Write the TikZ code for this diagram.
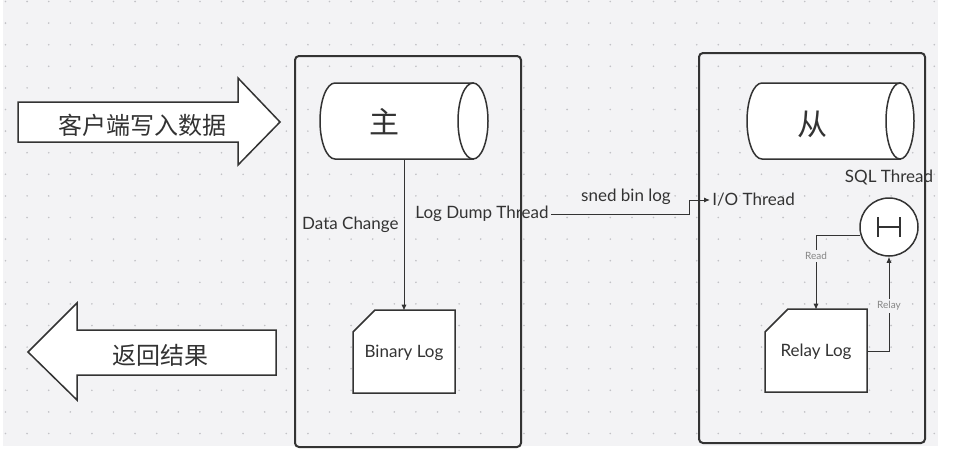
\documentclass[tikz,border=0pt]{standalone}
\usepackage{fontspec}
\setmainfont{Lato}
\newfontfamily\cjk{Noto Sans CJK SC}
\usetikzlibrary{arrows.meta}
\definecolor{canvas}{HTML}{F3F3F5}
\definecolor{gridpt}{HTML}{C2C2C6}
\definecolor{ink}{HTML}{333333}
\definecolor{lblgray}{HTML}{858585}

\begin{document}
\begin{tikzpicture}[x=0.5pt,y=-0.5pt,
    frame/.style={draw=ink,line width=1pt,rounded corners=2pt},
    shapeline/.style={draw=ink,line width=0.75pt,fill=white},
    txt/.style={text=ink,inner sep=1pt,font=\fontsize{8.5}{10}\selectfont},
    cjktxt/.style={text=ink,inner sep=1pt,font=\cjk\fontsize{12}{14}\selectfont},
    dbtxt/.style={text=ink,inner sep=1pt,font=\cjk\fontsize{15}{17}\selectfont},
    logbox/.style={txt,minimum width=51pt,minimum height=41.5pt},
    wirelbl/.style={text=lblgray,fill=canvas,inner sep=1pt,font=\fontsize{5}{6}\selectfont},
    flow/.style={draw=ink,line width=0.5pt,-{Latex[length=3pt,width=2.6pt]}}]
\useasboundingbox (0,0) rectangle (953,455);

% canvas with dot grid
\fill[canvas] (3,0) rectangle (938,446);
\foreach \i in {0,...,43}{
  \foreach \j in {0,...,20}{
    \fill[gridpt] (5.5+21.6*\i,1.5+21.6*\j) circle (0.45pt);
  }
}

% Drawing client arrows
\draw[shapeline] (18,102) -- (238,102) -- (238,78) -- (280,122) -- (238,165) -- (238,142) -- (18,142) -- cycle;
\node[cjktxt] (write) at (142,125) {客户端写入数据};
\draw[shapeline] (276,330) -- (77,330) -- (77,303) -- (28,352) -- (77,400) -- (77,375) -- (276,375) -- cycle;
\node[cjktxt] (result) at (160,355) {返回结果};

% Drawing master and slave frames
\draw[frame] (295,56) rectangle (521,447);
\draw[frame] (699,53) rectangle (925,443);

% Drawing cylinder for master
\draw[shapeline] (473,83) -- (335,83) .. controls (326.7,83) and (320,100) .. (320,121)
  .. controls (320,142) and (326.7,159) .. (335,159) -- (473,159) -- cycle;
\draw[shapeline] (473,121) ellipse [x radius=15, y radius=38];
\node[dbtxt] (master) at (384,122) {主};
\coordinate (masterbot) at (404,159);

% Drawing cylinder for slave
\draw[shapeline] (900,83) -- (762,83) .. controls (753.7,83) and (747,100) .. (747,121)
  .. controls (747,142) and (753.7,159) .. (762,159) -- (900,159) -- cycle;
\draw[shapeline] (900,121) ellipse [x radius=14, y radius=38];
\node[dbtxt] (slave) at (812,124) {从};

% Drawing log cards
\draw[shapeline] (353,332) -- (375,310) -- (455,310) -- (455,393) -- (353,393) -- cycle;
\node[logbox] (binlog) at (404,352.5) {Binary Log};
\draw[shapeline] (765,332) -- (788,309) -- (867,309) -- (867,392) -- (765,392) -- cycle;
\node[logbox] (relay) at (816,351.5) {Relay Log};

% Drawing SQL thread
\node[draw=ink,line width=0.75pt,fill=white,circle,minimum size=29pt,inner sep=0pt] (sqlt) at (889,227) {};
\draw[ink,line width=0.75pt] (sqlt.center) ++(-11,-10) -- ++(0,20) ++(0,-10) -- ++(22,0) ++(0,-10) -- ++(0,20);

% Labels
\node[txt,anchor=east] (change) at (401,225) {Data Change};
\node[txt,anchor=west] (dump) at (413,214) {Log Dump Thread};
\node[txt] (sendlbl) at (626,197) {sned bin log};
\node[txt,anchor=west] (io) at (710,200) {I/O Thread};
\node[txt] (sqllbl) at (889,177) {SQL Thread};

% Connectors
\draw[flow] (masterbot) -- (binlog);
\draw[flow] (dump.east) -- ++(138,0) |- (io.west);
\draw[flow] (sqlt.196) -| node[wirelbl,pos=0.64] (readlbl) {Read} (relay);
\draw[flow] (relay.east) -| node[wirelbl,pos=0.74] (relaylbl) {Relay} (sqlt);
\end{tikzpicture}
\end{document}
